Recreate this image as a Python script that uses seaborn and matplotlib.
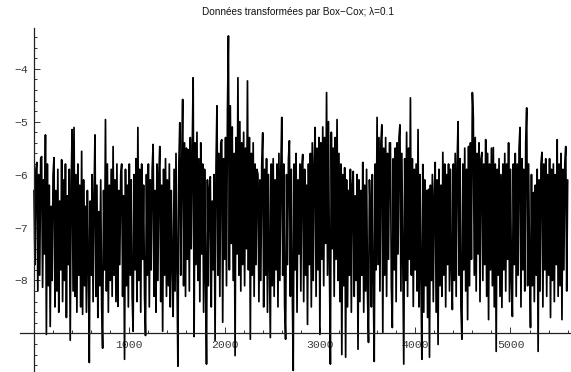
import numpy as np
import pandas as pd
import matplotlib
matplotlib.use("Agg")
import matplotlib.pyplot as plt
from matplotlib.ticker import MultipleLocator, FixedLocator, FuncFormatter
import seaborn as sns

# Box-Cox transformed series (lambda = 0.1), one value every 10 time steps
step = 10
series = [
    -6.3, -7.7, -5.9, -5.77, -8.2, -6.0, -7.9, -5.7, -5.66, -8.13, -6.1, -7.5, -5.25, -9.02, -5.8, -8.1, -6.2, -8.87, -6.6, -8.0,
    -6.0, -5.68, -8.5, -6.3, -8.2, -5.9, -8.6, -6.5, -7.8, -5.72, -8.4, -6.1, -8.0, -5.8, -8.7, -6.4, -7.7, -5.9, -9.13, -6.2,
    -5.15, -8.2, -5.11, -8.3, -6.0, -8.6, -5.8, -7.9, -6.2, -8.5, -5.56, -8.64, -6.1, -8.1, -6.6, -8.6, -6.3, -7.6, -9.55, -6.5,
    -7.9, -6.0, -8.4, -6.4, -5.25, -8.3, -6.2, -8.7, -6.7, -8.1, -6.1, -8.5, -9.28, -6.3, -7.8, -4.96, -8.2, -5.8, -8.6, -6.2,
    -8.0, -5.9, -8.3, -5.47, -7.9, -6.1, -8.4, -5.8, -8.49, -6.3, -7.7, -6.0, -5.8, -8.3, -6.4, -9.49, -5.9, -8.1, -6.2, -8.5,
    -5.8, -7.9, -6.1, -8.3, -8.96, -6.0, -7.8, -5.7, -8.4, -5.11, -8.0, -5.9, -8.6, -5.8, -7.6, -6.2, -8.3, -9.04, -6.0, -7.9,
    -5.8, -8.5, -6.1, -7.8, -5.9, -5.43, -8.3, -6.3, -8.6, -5.8, -8.0, -6.0, -5.47, -8.4, -6.2, -8.96, -5.9, -7.9, -5.7, -8.3,
    -6.1, -8.1, -5.8, -8.5, -6.3, -7.7, -8.68, -5.9, -8.2, -5.6, -7.8, -9.62, -5.8, -5.02, -7.9, -5.8, -4.58, -8.1, -5.4, -8.3,
    -5.5, -7.6, -5.53, -8.2, -5.3, -7.4, -5.6, -4.17, -9.06, -5.4, -7.7, -5.2, -8.0, -5.7, -8.4, -5.4, -7.5, -5.8, -8.6, -5.9,
    -7.9, -9.58, -6.1, -8.1, -6.3, -6.04, -8.5, -6.5, -7.8, -6.0, -9.13, -5.8, -4.70, -7.9, -5.6, -8.3, -5.4, -5.34, -8.79, -5.7,
    -7.6, -5.3, -8.1, -4.8, -3.38, -7.8, -4.7, -7.3, -5.1, -8.0, -5.6, -9.42, -5.3, -7.5, -4.17, -7.9, -5.0, -8.2, -5.4, -7.7,
    -5.2, -8.1, -5.5, -7.4, -4.23, -7.8, -5.3, -9.11, -5.6, -7.9, -5.4, -8.3, -5.8, -7.7, -5.9, -6.0, -8.4, -6.1, -8.0, -5.8,
    -5.21, -8.5, -5.9, -7.9, -5.7, -8.6, -6.0, -7.6, -9.08, -5.8, -8.1, -5.7, -8.3, -6.1, -7.8, -5.8, -8.5, -5.6, -8.0, -5.9,
    -4.92, -7.9, -5.8, -8.5, -9.11, -6.0, -7.7, -5.7, -5.36, -8.3, -5.9, -8.1, -9.7, -5.8, -7.8, -5.6, -8.6, -6.1, -7.5, -5.8,
    -8.2, -5.87, -5.62, -8.4, -5.9, -7.9, -6.2, -8.83, -5.8, -7.7, -5.6, -8.5, -5.4, -8.0, -5.8, -5.11, -8.3, -5.5, -7.8, -5.3,
    -9.02, -5.4, -7.6, -5.1, -8.1, -5.3, -7.3, -4.45, -7.9, -5.0, -7.7, -9.58, -5.2, -7.4, -5.5, -8.3, -5.3, -7.6, -4.96, -8.0,
    -5.6, -8.4, -5.8, -9.40, -6.0, -8.1, -5.87, -9.45, -6.1, -8.5, -6.3, -7.9, -5.9, -8.6, -6.2, -5.94, -8.3, -6.4, -8.0, -6.0,
    -9.30, -6.1, -8.4, -6.3, -7.9, -5.77, -8.6, -6.2, -8.2, -5.9, -8.3, -9.17, -6.1, -6.8, -8.5, -6.0, -8.0, -9.53, -5.8, -7.8,
    -4.92, -7.7, -5.3, -8.2, -5.4, -5.06, -8.98, -5.5, -7.9, -5.3, -8.3, -5.6, -7.6, -5.4, -5.40, -8.1, -8.89, -5.7, -7.8, -5.5,
    -8.4, -5.4, -7.5, -5.3, -5.06, -8.2, -5.6, -7.7, -9.58, -5.7, -8.0, -5.2, -8.3, -5.5, -7.6, -4.55, -7.9, -5.7, -8.49, -5.9,
    -7.8, -5.8, -8.2, -5.15, -8.5, -6.0, -7.9, -9.49, -5.81, -8.6, -6.1, -8.1, -6.3, -8.7, -6.28, -9.45, -6.2, -8.0, -6.0, -8.4,
    -6.4, -5.77, -8.6, -6.1, -9.21, -5.9, -8.1, -6.2, -8.3, -5.58, -7.9, -5.8, -8.5, -6.0, -7.7, -5.8, -8.2, -5.9, -7.8, -8.55,
    -5.8, -8.0, -5.6, -8.3, -5.8, -5.0, -7.9, -5.7, -8.5, -9.11, -5.8, -7.8, -5.5, -8.2, -5.9, -8.74, -5.47, -8.1, -5.4, -7.6,
    -4.45, -4.92, -7.9, -5.3, -8.2, -5.6, -7.5, -5.4, -8.4, -5.7, -5.58, -8.0, -5.8, -7.7, -5.34, -8.3, -5.6, -8.74, -5.8, -7.8,
    -5.5, -8.1, -5.49, -8.5, -5.8, -9.34, -5.9, -7.9, -5.7, -8.3, -6.0, -8.51, -5.8, -7.8, -5.6, -8.2, -5.8, -7.6, -5.40, -8.4,
    -5.9, -8.0, -8.68, -5.8, -7.7, -5.6, -8.3, -5.8, -7.9, -5.5, -5.11, -8.5, -5.7, -7.8, -5.9, -8.2, -5.4, -4.74, -8.1, -5.8,
    -7.7, -8.89, -6.0, -8.1, -6.34, -8.4, -6.2, -7.9, -5.9, -9.34, -6.1, -8.2, -5.8, -5.58, -8.5, -5.8, -7.8, -5.7, -8.3, -6.0,
    -7.9, -5.7, -8.70, -5.9, -8.0, -5.8, -8.4, -6.0, -7.7, -5.34, -8.3, -5.8, -8.1, -5.6, -8.74, -5.9, -7.8, -5.8, -5.47, -8.2,
    -6.1,
]
time = [i * step for i in range(len(series))]
x_major = [1000, 2000, 3000, 4000, 5000]
y_major = [-8, -7, -6, -5, -4]
title = "Données transformées par Box\u2212Cox; \u03bb=0.1"

df = pd.DataFrame({"t": time, "y": series})

sns.set_style("white")
W, H = 571, 372
fig = plt.figure(figsize=(W / 100, H / 100), dpi=100)
ax = fig.add_axes([20 / W, 0.0, 551 / W, 1 - 28 / H])

sns.lineplot(data=df, x="t", y="y", ax=ax, color="black", linewidth=1.25,
             estimator=None, sort=False)

ax.set_xlim(-147, 5635)
ax.set_ylim(-9.73, -3.23)

# axes crossing at (0, -9)
for side in ("top", "right"):
    ax.spines[side].set_visible(False)
ax.spines["left"].set_position(("data", 0))
ax.spines["bottom"].set_position(("data", -9))
for side in ("left", "bottom"):
    ax.spines[side].set_color("#222222")
    ax.spines[side].set_linewidth(0.9)

ax.xaxis.set_major_locator(FixedLocator(x_major))
ax.xaxis.set_minor_locator(MultipleLocator(200))
ax.yaxis.set_major_locator(FixedLocator(y_major))
ax.yaxis.set_minor_locator(MultipleLocator(0.2))
ax.yaxis.set_major_formatter(FuncFormatter(lambda v, p: f"\u2212{abs(int(v))}"))
ax.xaxis.set_major_formatter(FuncFormatter(lambda v, p: f"{int(v)}"))

ax.tick_params(which="both", direction="in", color="#333333", width=0.7,
               bottom=True, left=True, top=False, right=False)
ax.tick_params(which="major", length=4.0)
ax.tick_params(which="minor", length=2.2)
ax.tick_params(axis="both", which="major", labelsize=8.2, labelcolor="#3a3a3a", pad=4.5)
for lab in ax.get_xticklabels() + ax.get_yticklabels():
    lab.set_fontfamily("Liberation Mono")

ax.set_xlabel("")
ax.set_ylabel("")
ax.grid(False)

fig.text(298 / W, 1 - 12 / H, title, ha="center", va="center",
         fontsize=7.2, family="Liberation Sans", color="#111111")

fig.savefig("out.png", dpi=100)
